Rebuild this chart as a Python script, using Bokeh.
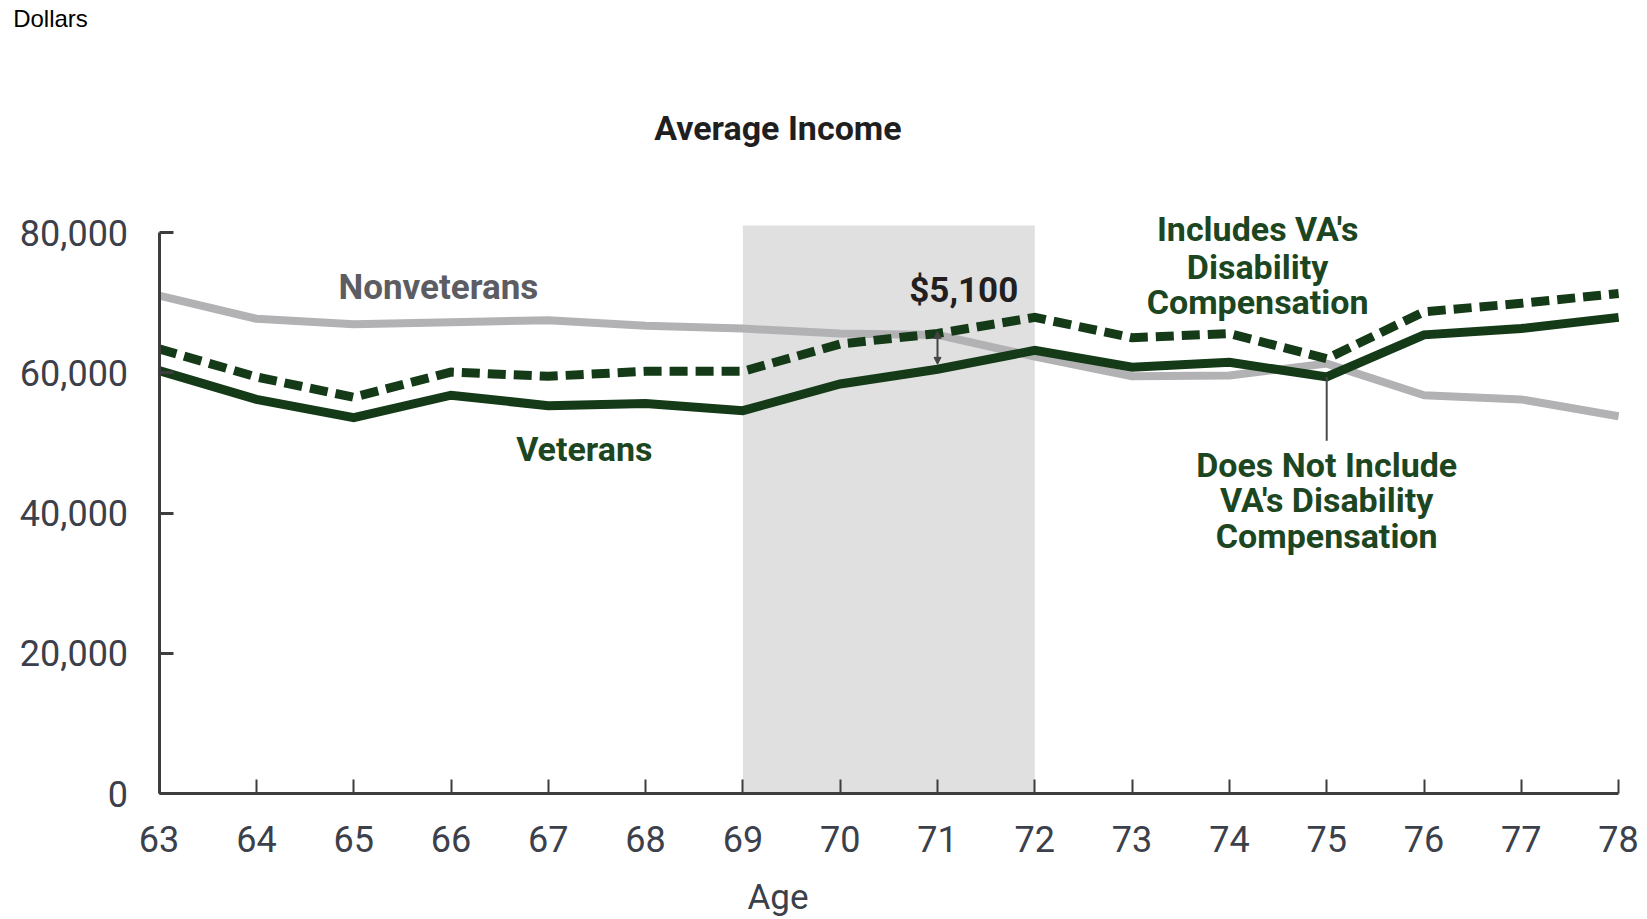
from bokeh.plotting import figure
from bokeh.models import (Range1d, FixedTicker, NumeralTickFormatter, Label,
                          Arrow, NormalHead)
from bokeh.embed import file_html
from bokeh.resources import INLINE

# ---------------- data ----------------
ages = list(range(63, 79))
nonveterans = [71000, 67700, 66900, 67200, 67500, 66700, 66300, 65600,
               65400, 62300, 59500, 59600, 61300, 56800, 56200, 53800]
veterans_incl = [63400, 59400, 56500, 60100, 59500, 60200, 60200, 64100,
                 65600, 67900, 65000, 65600, 62000, 68700, 69900, 71300]
veterans_excl = [60300, 56200, 53600, 56800, 55300, 55600, 54600, 58400,
                 60500, 63200, 60800, 61500, 59400, 65400, 66300, 67900]
shade_ages = [69, 72]
shade_top = 81000
y_ticks = [0, 20000, 40000, 60000, 80000]
gap_age = 71
gap_label = "$5,100"
callout_age = 75

# ---------------- layout (pixels) ----------------
W, H = 1640, 919
PX_X0 = 158.6        # pixel x of first age
PX_PER_AGE = 97.3
PX_Y0 = 793.0        # pixel y of value 0
PX_PER_VAL = 561.0 / 80000.0

x_start = ages[0] - PX_X0 / PX_PER_AGE
x_end = ages[0] + (W - PX_X0) / PX_PER_AGE
y_end = PX_Y0 / PX_PER_VAL
y_start = -(H - PX_Y0) / PX_PER_VAL

# ---------------- styles ----------------
GREEN_LINE = "#143a17"
GREEN_TEXT = "#1c4621"
GRAY_LINE = "#b2b2b5"
GRAY_TEXT = "#5c5c63"
AXIS = "#3d3d3d"
TICK_TXT = "#3b404b"
FONT = "Roboto"

p = figure(width=W, height=H, output_backend="svg", toolbar_location=None,
           x_range=Range1d(x_start, x_end), y_range=Range1d(y_start, y_end),
           min_border=0, min_border_left=0, min_border_right=0,
           min_border_top=0, min_border_bottom=0)
p.outline_line_color = None
p.grid.visible = False
p.background_fill_color = "white"
p.border_fill_color = "white"

# shaded region
p.quad(left=shade_ages[0], right=shade_ages[1], bottom=0, top=shade_top,
       fill_color="#e0e0e0", line_color=None)

# lines
p.line(ages, nonveterans, line_color=GRAY_LINE, line_width=8)
p.line(ages, veterans_excl, line_color=GREEN_LINE, line_width=9,
       line_join="miter")
p.line(ages, veterans_incl, line_color=GREEN_LINE, line_width=9,
       line_dash="18 8", line_join="miter")

# gap arrow at 71
i = ages.index(gap_age)
p.add_layout(Arrow(x_start=gap_age, y_start=veterans_incl[i] + 300,
                   x_end=gap_age, y_end=veterans_excl[i] + 700,
                   line_color="#444444", line_width=2,
                   start=NormalHead(size=7, fill_color="#444444", line_color="#444444"),
                   end=NormalHead(size=7, fill_color="#444444", line_color="#444444")))

# callout line at 75
j = ages.index(callout_age)
p.segment(x0=[callout_age], y0=[veterans_excl[j]], x1=[callout_age], y1=[50300],
          line_color="#4a4a4a", line_width=2)

# axes, pinned to the data origin
p.xaxis.ticker = FixedTicker(ticks=ages)
p.yaxis.ticker = FixedTicker(ticks=y_ticks)
p.yaxis.formatter = NumeralTickFormatter(format="0,0")
p.xaxis.bounds = (ages[0], ages[-1])
p.yaxis.bounds = (y_ticks[0], y_ticks[-1])
p.xaxis.fixed_location = 0
p.yaxis.fixed_location = ages[0]
for ax in (p.xaxis[0], p.yaxis[0]):
    ax.axis_line_color = AXIS
    ax.axis_line_width = 3
    ax.major_tick_line_color = AXIS
    ax.major_tick_line_width = 2
    ax.major_tick_in = 14
    ax.major_tick_out = 0
    ax.minor_tick_line_color = None
    ax.major_label_text_font = FONT
    ax.major_label_text_font_size = "36px"
    ax.major_label_text_color = TICK_TXT
p.yaxis.major_tick_line_width = 3
p.xaxis.major_label_standoff = 32
p.yaxis.major_label_standoff = 31


def lab(text, x, y, size, color, bold=True, font=FONT, align="center"):
    p.add_layout(Label(x=x, y=y, text=text, text_font=font,
                       text_font_size=size, text_color=color,
                       text_font_style="bold" if bold else "normal",
                       text_align=align, text_baseline="alphabetic"))


lab("Average Income", 69.36, 94850, "34px", "#1f1f1f")
lab("Dollars", 61.50, 110550, "24px", "#000000", bold=False,
    font="Liberation Sans", align="left")
lab("Age", 69.36, -14900, "35px", TICK_TXT, bold=False)
lab("Nonveterans", 65.87, 72100, "35px", GRAY_TEXT)
lab("Veterans", 67.37, 49130, "34px", GREEN_TEXT)
lab(gap_label, 71.27, 71740, "35px", "#231f20")
for k, t in enumerate(["Includes VA's", "Disability", "Compensation"]):
    lab(t, 74.29, [80450, 75050, 70150][k], "34px", GREEN_TEXT)
for k, t in enumerate(["Does Not Include", "VA's Disability", "Compensation"]):
    lab(t, 75.0, [46900, 41850, 36700][k], "34px", GREEN_TEXT)

open("out.html", "w").write(file_html(p, INLINE))
